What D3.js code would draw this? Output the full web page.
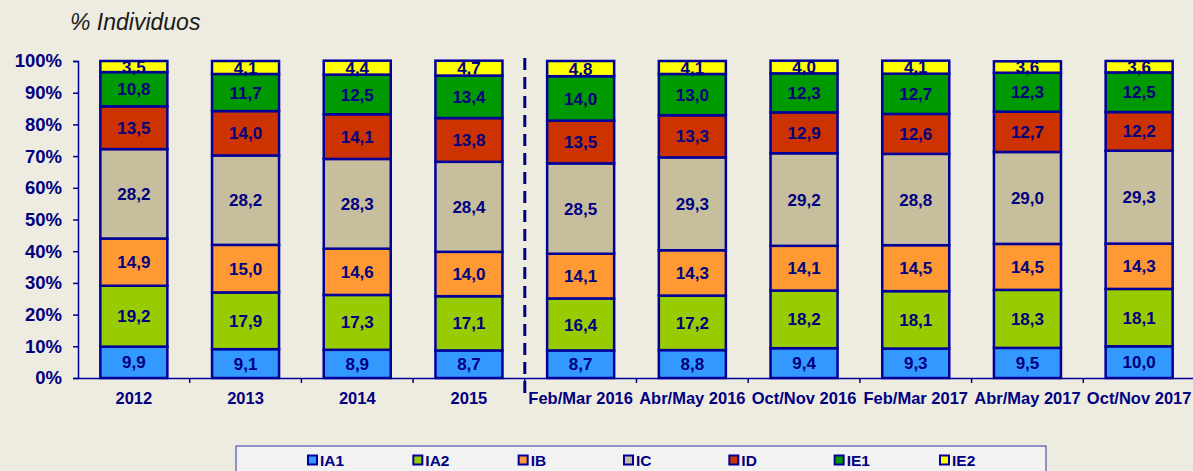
<!DOCTYPE html>
<html>
<head>
<meta charset="utf-8">
<script src="https://cdn.jsdelivr.net/npm/d3@7"></script>
<style>
  body { margin: 0; background: #EEEBE0; overflow: hidden; }
  text { font-family: "Liberation Sans", Arial, sans-serif; }
</style>
</head>
<body>
<script>
// categories and series (values in %)
const categories = ["2012", "2013", "2014", "2015", "Feb/Mar 2016", "Abr/May 2016",
  "Oct/Nov 2016", "Feb/Mar 2017", "Abr/May 2017", "Oct/Nov 2017"];
const seriesNames = ["IA1", "IA2", "IB", "IC", "ID", "IE1", "IE2"];
const IA1 = [9.9, 9.1, 8.9, 8.7, 8.7, 8.8, 9.4, 9.3, 9.5, 10.0];
const IA2 = [19.2, 17.9, 17.3, 17.1, 16.4, 17.2, 18.2, 18.1, 18.3, 18.1];
const IB  = [14.9, 15.0, 14.6, 14.0, 14.1, 14.3, 14.1, 14.5, 14.5, 14.3];
const IC  = [28.2, 28.2, 28.3, 28.4, 28.5, 29.3, 29.2, 28.8, 29.0, 29.3];
const ID  = [13.5, 14.0, 14.1, 13.8, 13.5, 13.3, 12.9, 12.6, 12.7, 12.2];
const IE1 = [10.8, 11.7, 12.5, 13.4, 14.0, 13.0, 12.3, 12.7, 12.3, 12.5];
const IE2 = [3.5, 4.1, 4.4, 4.7, 4.8, 4.1, 4.0, 4.1, 3.6, 3.6];
const yTicks = [0, 10, 20, 30, 40, 50, 60, 70, 80, 90, 100];

const colors = ["#3399FF", "#99CC00", "#FF9933", "#C6BE9C", "#CC3300", "#009900", "#FFFF00"];
const navy = "#000080";
const edge = "#000099";

const width = 1193, height = 471;
const svg = d3.select("body").append("svg")
  .attr("width", width).attr("height", height);

// build table for stacking
const allSeries = [IA1, IA2, IB, IC, ID, IE1, IE2];
const table = categories.map((c, i) => {
  const row = { cat: c };
  seriesNames.forEach((s, k) => row[s] = allSeries[k][i]);
  return row;
});
const stacked = d3.stack().keys(seriesNames)(table);

const x = d3.scaleBand().domain(categories).range([78, 1195])
  .paddingInner(0.4).paddingOuter(0.2);
const y = d3.scaleLinear().domain([0, 100]).range([378, 61]);

// title
svg.append("text")
  .attr("x", 70).attr("y", 30)
  .attr("font-size", 23).attr("font-style", "italic")
  .attr("fill", "#1a1a1a")
  .text("% Individuos");

// y axis
const yAxis = svg.append("g").attr("transform", "translate(78,0)")
  .call(d3.axisLeft(y).tickValues(yTicks).tickSize(5).tickFormat(d => d + "%"));
yAxis.select(".domain").attr("stroke", edge).attr("stroke-width", 1.5);
yAxis.selectAll(".tick line").attr("stroke", edge).attr("stroke-width", 1.5);
yAxis.selectAll(".tick text")
  .attr("fill", navy).attr("font-size", 18.5).attr("font-weight", "bold")
  .attr("x", -16);

// x axis
const step = x.step();
const xAxis = svg.append("g").attr("transform", "translate(0,378)")
  .call(d3.axisBottom(x).tickSize(0).tickSizeOuter(0));
xAxis.select(".domain").attr("stroke", edge).attr("stroke-width", 1.5);
xAxis.selectAll(".tick text")
  .attr("fill", navy).attr("font-size", 16.5).attr("font-weight", "bold")
  .attr("dy", "1.1em").attr("y", 8);
// tick marks between categories
svg.append("g").selectAll("line")
  .data(d3.range(1, categories.length))
  .join("line")
  .attr("x1", i => 78 + i * step).attr("x2", i => 78 + i * step)
  .attr("y1", 378).attr("y2", 383)
  .attr("stroke", edge).attr("stroke-width", 1.5);

// dashed separator
svg.append("line")
  .attr("x1", 78 + 4 * step).attr("x2", 78 + 4 * step)
  .attr("y1", 58).attr("y2", 395)
  .attr("stroke", navy).attr("stroke-width", 3)
  .attr("stroke-dasharray", "12,7");

// bars
const layers = svg.append("g").selectAll("g")
  .data(stacked).join("g")
  .attr("fill", (d, i) => colors[i]);

layers.selectAll("rect")
  .data(d => d).join("rect")
  .attr("x", d => x(d.data.cat))
  .attr("width", x.bandwidth())
  .attr("y", d => y(d[1]))
  .attr("height", d => y(d[0]) - y(d[1]))
  .attr("stroke", edge).attr("stroke-width", 2.5);

// value labels
const labels = svg.append("g");
stacked.forEach(layer => {
  labels.selectAll(null)
    .data(layer).join("text")
    .attr("x", d => x(d.data.cat) + x.bandwidth() / 2)
    .attr("y", d => (y(d[0]) + y(d[1])) / 2)
    .attr("dy", "0.36em")
    .attr("text-anchor", "middle")
    .attr("font-size", 17).attr("font-weight", "bold")
    .attr("fill", navy)
    .text(d => d3.format(".1f")(d[1] - d[0]).replace(".", ","));
});

// legend
const legend = svg.append("g");
legend.append("rect")
  .attr("x", 236).attr("y", 446).attr("width", 810).attr("height", 30)
  .attr("fill", "#F2F2F2").attr("stroke", "#3333AA").attr("stroke-width", 1);
const lx = d3.scalePoint().domain(seriesNames).range([308, 940]);
const item = legend.selectAll(".item").data(seriesNames).join("g")
  .attr("transform", d => `translate(${lx(d)},460)`);
item.append("rect")
  .attr("x", 0).attr("y", -4.5).attr("width", 9).attr("height", 9)
  .attr("fill", (d, i) => colors[i])
  .attr("stroke", edge).attr("stroke-width", 2);
item.append("text")
  .attr("x", 12).attr("y", 0).attr("dy", "0.36em")
  .attr("font-size", 15.5).attr("font-weight", "bold")
  .attr("fill", navy)
  .text(d => d);
</script>
</body>
</html>
